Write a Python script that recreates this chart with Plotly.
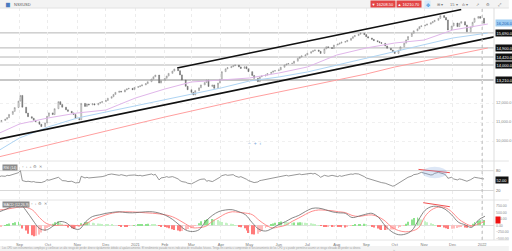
import plotly.graph_objects as go
import pandas as pd

# ---------------- DATA ----------------
start_date = "2020-08-11"
# closes every 2 business days
close = [11016, 11080, 11150, 11230, 11400, 11560, 11760, 12100, 12400, 11780,
         11470, 11280, 11200, 11090, 11010, 10880, 10760, 10950, 11300, 11480,
         11390, 11700, 12070, 11920, 11780, 11640, 11560, 11480, 11390, 11180,
         11120, 11980, 11820, 11950, 11900, 11960, 11900, 11980, 12030, 12070,
         12130, 12250, 12330, 12450, 12560, 12620, 12580, 12690, 12740, 12770,
         12700, 12820, 12860, 12900, 12950, 13020, 13120, 13260, 13380, 13470,
         13050, 13180, 13300, 13420, 13560, 13680, 13790, 13700, 13480, 13210,
         12880, 12700, 12560, 12420, 12650, 12800, 12950, 13080, 13210, 12870,
         12950, 12770, 13050, 13250, 13650, 13800, 13860, 13910, 13960, 14000,
         13900, 13820, 13910, 13800, 13650, 13450, 13300, 13120, 13380, 13420,
         13470, 13550, 13620, 13680, 13700, 13740, 13880, 14000, 14050, 14080,
         14090, 14200, 14350, 14420, 14480, 14530, 14620, 14700, 14750, 14790,
         14720, 14610, 14850, 14960, 14920, 14870, 15050, 15100, 15150, 15200,
         15230, 15300, 15400, 15490, 15550, 15620, 15670, 15600, 15490, 15420,
         15350, 15280, 15230, 15180, 15140, 15000, 14880, 14790, 14700, 14610,
         14780, 14960, 15150, 15320, 15500, 15670, 15800, 15900, 16020, 16060,
         16100, 16150, 16220, 16280, 16350, 16450, 16600, 16500, 16370, 15840,
         16050, 16210, 16020, 16200, 16280, 16100, 15750, 16000, 16250, 16460,
         16550, 16460, 16200]

rsi = [62, 64, 63, 66, 65, 68, 70, 74, 80, 50, 47, 48, 46, 47, 45, 43, 44,
       48, 53, 51, 55, 58, 60, 55, 50, 49, 47, 48, 45, 43, 44,
       63, 58, 60, 58, 59, 60, 61, 60, 62, 65, 68, 70, 69, 67, 66,
       68, 66, 64, 66, 68, 67, 65, 66, 64, 66, 68, 70, 67, 69, 52, 58, 60,
       62, 60, 62, 60, 55, 50, 47, 45, 42, 40, 42, 46, 52, 54, 55, 48, 50, 47,
       50, 56, 60, 65, 68, 66, 67, 68, 64, 60, 62, 58, 54, 50, 47, 44, 46,
       50, 51, 53, 55, 57, 58, 60, 61, 63, 65, 66, 64, 66, 68,
       69, 70, 68, 70, 71, 72, 70, 72, 65, 60, 66, 64, 63, 66, 64, 62, 65,
       63, 66, 68, 70, 69, 71, 70, 68, 62, 58, 56, 53, 50, 48,
       46, 44, 42, 40, 36, 33, 35, 42, 47, 52, 56, 60, 64, 68,
       70, 73, 75, 72, 70, 67, 68, 72, 75, 74, 70, 66,
       57, 60, 55, 52, 55, 54, 50, 48, 53, 56, 60, 58, 57, 55]

# weekly MACD / signal
macd = [523, 620, 740, 830, 560, 200, -120, -180, -40, 140, 100, -100, -150, 150,
        340, 400, 460, 500, 520, 490, 480, 500, 520, 520, 470, 380, 230, 20,
        -180, -240, -170, 150, 380, 530, 590, 600, 520, 400, 100, -150, -220,
        -120, 30, 140, 280, 380, 530, 650, 660, 600, 520, 480, 460, 300, 350,
        420, 460, 300, -20, -250, -360, -340, -200, 200, 580, 720, 720, 620,
        400, 120, 20, -80, 200, 350]
signal = [590, 620, 660, 700, 690, 580, 300, 80, 0, 0, 0, 0, -10, 60,
          210, 310, 400, 470, 510, 520, 515, 500, 480, 465, 440, 400, 330, 200,
          50, -90, -90, -40, 150, 300, 450, 520, 500, 470, 410, 200, 20,
          -100, -60, 0, 150, 280, 420, 540, 590, 580, 560, 520, 490, 380, 340,
          380, 400, 320, 160, -80, -200, -250, -220, -100, 350, 600, 700, 680,
          520, 250, 80, -20, 50, 150]

hist = [-60, -30, 10, 40, 70, 90, 120, 140, 60, -120, -200, -320, -380, -420,
        -400, -350, -280, -220, -100, -30, 60, 120, 150, 110, 60, -20, -80,
        -110, -140, -120, -50, 80, 120, 130, 120, 100, 80, 70, 60, 50, 40, 30,
        20, 10, 0, -20, -30, -35, -35, -20, -5, 10, 20, 35, 45, 55, 60, 50, 40,
        25, -10, -30, -50, -80, -110, -150, -180, -200, -230, -220, -180, -140,
        -110, -80, -20, 80, 160, 200, 230, 220, 240, 220, 200, 160, 130, 100,
        80, 60, 30, 10, -30, -70, -110, -200, -300, -340, -350, -320, -260,
        -200, -100, -30, 20, 70, 100, 130, 145, 140, 130, 120, 100, 105, 110,
        115, 110, 100, 90, 80, 60, 40, 10, -20, -40, -40, -35, -40, -30, -35,
        -50, -70, -80, -60, -20, 10, 30, 40, 50, 60, 40, 0, -40, -80, -120,
        -160, -180, -180, -170, -165, -160, -140, -100, -60, -10, 60, 140, 220,
        280, 300, 260, 220, 160, 120, 80, 40, 10, -30, -60, -80, -110, -140,
        -130, -120, -100, -70, -60, -80, -90, -40, 60, 130, 170, 190, 200]

ma_dates = ["2020-08-11", "2020-09-01", "2020-10-01", "2020-11-01", "2020-12-01",
            "2021-01-01", "2021-02-01", "2021-03-01", "2021-04-01", "2021-05-01",
            "2021-06-01", "2021-07-01", "2021-08-01", "2021-09-01", "2021-10-01",
            "2021-11-01", "2021-12-01", "2022-01-07"]
ma50 = [10421, 10895, 11211, 11474, 11632, 12263, 12737, 13105, 13211, 13316,
        13579, 13895, 14526, 14895, 15158, 15316, 15842, 16158]
ma100 = [9526, 10158, 10737, 11211, 11526, 11842, 12158, 12474, 12789, 13158,
         13368, 13632, 14000, 14368, 14737, 15105, 15421, 15684]
ma200 = [9174, 9421, 9789, 10158, 10526, 10895, 11263, 11579, 11947, 12263,
         12579, 12895, 13211, 13526, 13895, 14211, 14526, 14895]

channel_low_dates = ["2020-08-11", "2022-01-14"]
channel_low_vals = [10105, 15489]
channel_up_dates = ["2021-02-14", "2021-12-10"]
channel_up_vals = [13842, 16921]

levels = [15690, 14900, 14420, 14000, 13210]
price_ticks = [10000, 11000, 12000]
last_price = 16206.0
rsi_last = 52
macd_last = 204

rsi_trend_dates = ["2021-10-26", "2021-11-28"]
rsi_trend_vals = [84, 74]
macd_trend_dates = ["2021-10-31", "2021-11-28"]
macd_trend_vals = [869, 715]

month_ticks = ["2020-09-01", "2020-10-01", "2020-11-01", "2020-12-01", "2021-01-01",
               "2021-02-01", "2021-03-01", "2021-04-01", "2021-05-01", "2021-06-01",
               "2021-07-01", "2021-08-01", "2021-09-01", "2021-10-01", "2021-11-01",
               "2021-12-01", "2022-01-01"]
month_labels = ["Sep", "Oct", "Nov", "Dec", "2021", "Feb", "Mar", "Apr", "May", "Jun",
                "Jul", "Aug", "Sep", "Oct", "Nov", "Dec", "2022"]

# ---------------- FIGURE ----------------
FONT = "Liberation Sans"
pdates = pd.bdate_range(start_date, periods=len(close), freq="2B")
opens = [close[0]] + close[:-1]
highs = [max(o, c) for o, c in zip(opens, close)]
lows = [min(o, c) for o, c in zip(opens, close)]
rdates = pd.bdate_range(start_date, periods=len(rsi), freq="2B")
hdates = pd.bdate_range(start_date, periods=len(hist), freq="2B")
mdates = pd.bdate_range(start_date, periods=len(macd), freq="5B")

fig = go.Figure()

for d, v, col in [(ma_dates, ma200, "#ff9f9f"), (ma_dates, ma100, "#aed4f3"),
                  (ma_dates, ma50, "#e0b6ea")]:
    fig.add_trace(go.Scatter(x=d, y=v, mode="lines", line=dict(color=col, width=1),
                             xaxis="x", yaxis="y", showlegend=False, hoverinfo="skip"))

fig.add_trace(go.Candlestick(
    x=pdates, open=opens, high=highs, low=lows, close=close,
    increasing=dict(line=dict(color="#7a7a7a", width=0.5), fillcolor="#ffffff"),
    decreasing=dict(line=dict(color="#6a6a6a", width=0.5), fillcolor="#777777"),
    whiskerwidth=0, xaxis="x", yaxis="y", showlegend=False))

for d, v in [(channel_low_dates, channel_low_vals), (channel_up_dates, channel_up_vals)]:
    fig.add_trace(go.Scatter(x=d, y=v, mode="lines", line=dict(color="#111", width=1.6),
                             xaxis="x", yaxis="y", showlegend=False))

# RSI
fig.add_trace(go.Scatter(x=rdates, y=rsi, mode="lines", line=dict(color="#6a6a6a", width=0.7),
                         xaxis="x", yaxis="y2", showlegend=False))
fig.add_trace(go.Scatter(x=rsi_trend_dates, y=rsi_trend_vals, mode="lines",
                         line=dict(color="#f05050", width=1), xaxis="x", yaxis="y2",
                         showlegend=False))

# MACD
hcols = []
for i, h in enumerate(hist):
    prev = hist[i - 1] if i > 0 else h
    if h >= 0:
        hcols.append("#8ee38e" if h >= prev else "#c4f2c4")
    else:
        hcols.append("#ff7a7a" if h <= prev else "#ffbcbc")
fig.add_trace(go.Bar(x=hdates, y=hist, marker=dict(color=hcols, line=dict(width=0)),
                     xaxis="x", yaxis="y3", showlegend=False))
fig.add_trace(go.Scatter(x=mdates, y=signal, mode="lines", line=dict(color="#ff8080", width=0.9, shape="spline"),
                         xaxis="x", yaxis="y3", showlegend=False))
fig.add_trace(go.Scatter(x=mdates, y=macd, mode="lines", line=dict(color="#6a6a6a", width=0.8, shape="spline"),
                         xaxis="x", yaxis="y3", showlegend=False))
fig.add_trace(go.Scatter(x=macd_trend_dates, y=macd_trend_vals, mode="lines",
                         line=dict(color="#f05050", width=1), xaxis="x", yaxis="y3",
                         showlegend=False))

H = 232.0
def py(pix):
    return (240 - pix) / H

shapes = []
for lv in levels:
    shapes.append(dict(type="line", xref="paper", yref="y", x0=0, x1=1, y0=lv, y1=lv,
                       line=dict(color="#b5b5b5", width=1.4 if lv == levels[-1] else 1), layer="below"))
# top bar
shapes.append(dict(type="rect", xref="paper", yref="paper", x0=0, x1=1.03, y0=1, y1=py(0),
                   fillcolor="#f3f3f3", line=dict(width=0), layer="below"))
shapes.append(dict(type="line", xref="paper", yref="paper", x0=0, x1=1.03, y0=1, y1=1,
                   line=dict(color="#e2e2e2", width=1)))
# pane separators
for p in [161, 200, 240]:
    shapes.append(dict(type="line", xref="paper", yref="paper", x0=0, x1=1.03, y0=py(p), y1=py(p),
                       line=dict(color="#e4e4e4", width=1)))
shapes.append(dict(type="line", xref="paper", yref="paper", x0=1, x1=1, y0=py(240), y1=1,
                   line=dict(color="#dddddd", width=1)))
shapes.append(dict(type="line", xref="x", yref="paper", x0="2022-01-01", x1="2022-01-01",
                   y0=py(240), y1=1, line=dict(color="#bbbbbb", width=1, dash="dot")))
# bottom band
shapes.append(dict(type="rect", xref="paper", yref="paper", x0=0, x1=1.03, y0=py(251), y1=py(246),
                   fillcolor="#f3f3f3", line=dict(width=0), layer="below"))
# RSI ellipse
shapes.append(dict(type="circle", xref="x", yref="y2", x0="2021-10-30", x1="2021-11-25",
                   y0=57, y1=92, fillcolor="rgba(120,160,220,0.25)", line=dict(width=0)))
# RSI reference lines
for lv in [20, 80]:
    shapes.append(dict(type="line", xref="paper", yref="y2", x0=0, x1=1, y0=lv, y1=lv,
                       line=dict(color="#d8d8d8", width=1), layer="below"))

ann = []
def tag(y, yref, text, bg, fc="#ffffff"):
    ann.append(dict(x=1, xref="paper", y=y, yref=yref, xanchor="left", yanchor="middle",
                    text=text, showarrow=False, bgcolor=bg, borderpad=0.5, xshift=1,
                    font=dict(size=4, color=fc, family=FONT)))
for lv in levels:
    tag(lv, "y", f"{lv:,.1f}", "#111111")
tag(last_price, "y", f"{last_price:,.1f}", "#9fcdf2", "#1a5fb4")
tag(rsi_last, "y2", f"{rsi_last:.2f}", "#111111")
tag(macd_last, "y3", "&nbsp;&nbsp;&nbsp;", "#ee1111")

def txt(x, y, text, size=4, color="#555", bg=None, xanchor="left"):
    d = dict(x=x, y=y, xref="paper", yref="paper", text=text, showarrow=False,
             xanchor=xanchor, yanchor="middle", font=dict(size=size, color=color, family=FONT))
    if bg:
        d["bgcolor"] = bg
        d["borderpad"] = 0.5
    ann.append(d)

txt(3 / 501, py(4.5), "▆", 5, "#4a7bbf")
txt(12 / 501, py(4.5), "NSXUSD", 4, "#555")
txt(375 / 501, py(4.5), "▼ 16208.50", 4, "#fff", "#e24545")
txt(402 / 501, py(4.5), "▲ 16210.70", 4, "#fff", "#e24545")
txt(430 / 501, py(4.5), "✥", 5, "#3a8fd8", "#d6eafa")
txt(441 / 501, py(4.5), "⊞ ▾", 4, "#777")
txt(454 / 501, py(4.5), "15 ▾", 4, "#777")
txt(467 / 501, py(4.5), "ılı ▾", 4, "#777")
txt(481 / 501, py(4.5), "↗", 4, "#777")
txt(491 / 501, py(4.5), "⚙", 4, "#777")
txt(503 / 501, py(4.5), "⤢", 4, "#777")
txt(258 / 501, py(143), "−  +  ‹", 5, "#7aa7d9", xanchor="center")
txt(2 / 501, py(167), "RSI (14)", 3.5, "#fff", "#8a8a8a")
txt(20 / 501, py(167), "↑  ↓  +  ⚙  ✕", 3.5, "#888")
txt(2 / 501, py(204), "MACD (12,26,9)", 3.5, "#fff", "#8a8a8a")
txt(29 / 501, py(204), "↑  ↓  ⚙  ✕", 3.5, "#888")
txt(0, py(248.5), "Los CFD son instrumentos complejos y conllevan un alto riesgo de perder dinero rápidamente debido al apalancamiento. "
    "El rendimiento pasado no es indicativo de resultados futuros. Tenga en cuenta si comprende el funcionamiento de los CFD y si puede permitirse asumir un riesgo elevado de perder su dinero.",
    2.6, "#a0a0a0")
txt(400 / 501, py(249), "⌄", 5, "#bbb", xanchor="center")

fig.update_layout(
    width=512, height=251,
    margin=dict(l=0, r=11, t=8, b=11),
    paper_bgcolor="#ffffff", plot_bgcolor="#ffffff",
    font=dict(family=FONT, size=4, color="#666"),
    bargap=0.5,
    showlegend=False,
    xaxis=dict(type="date", domain=[0, 1], anchor="y3",
               range=["2020-08-11 12:00", "2022-01-13 12:00"],
               tickvals=month_ticks, ticktext=month_labels, tickfont=dict(size=4, color="#777"),
               showgrid=True, gridcolor="#ececec", griddash="dot", gridwidth=1,
               rangeslider=dict(visible=False), ticks="", ticklabelstandoff=1,
               zeroline=False, showline=False),
    yaxis=dict(domain=[py(160), 1], anchor="x", side="right", range=[9000, 17000],
               tickvals=price_ticks, tickformat=",.1f", tickfont=dict(size=4, color="#888"),
               showgrid=True, gridcolor="#f0f0f0", griddash="dot", zeroline=False,
               ticklabelstandoff=1),
    yaxis2=dict(domain=[py(199), py(161)], anchor="x", side="right", range=[-5.8, 109.4],
                tickvals=[20, 80], tickfont=dict(size=4, color="#666"), showgrid=False,
                zeroline=False, ticklabelstandoff=1),
    yaxis3=dict(domain=[0, py(200)], anchor="x", side="right", range=[-565, 973],
                tickvals=[-500, -250, 0, 250, 500, 750], tickformat=".2f",
                tickfont=dict(size=3.5, color="#888"), showgrid=False,
                zeroline=True, zerolinecolor="#e0e0e0", zerolinewidth=1, ticklabelstandoff=1),
    shapes=shapes, annotations=ann,
)

fig.write_html("out.html")
